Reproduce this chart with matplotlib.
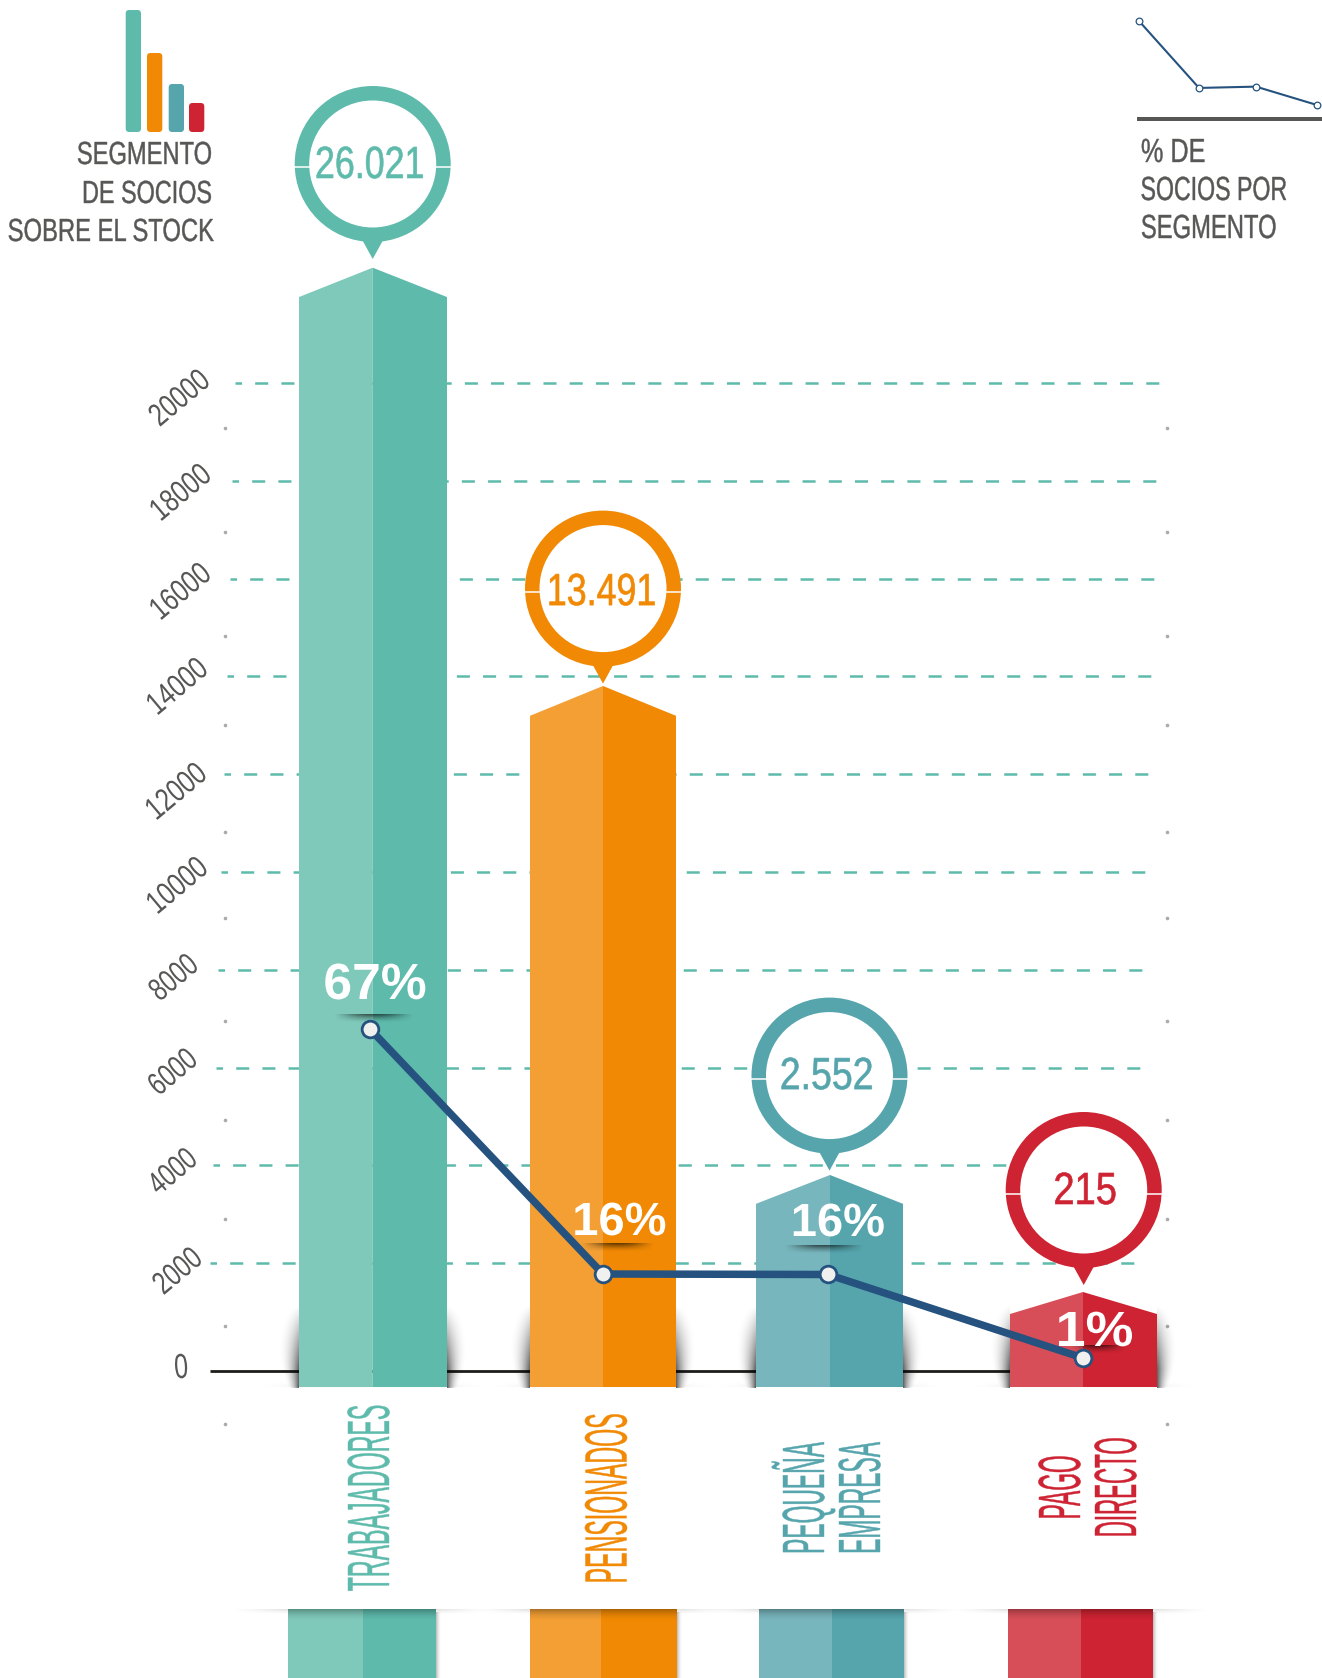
import numpy as np
import matplotlib
matplotlib.use('Agg')
import matplotlib.pyplot as plt
from matplotlib.patches import Circle, Polygon, FancyBboxPatch, Rectangle
from matplotlib.patheffects import AbstractPathEffect
from matplotlib.transforms import Affine2D

# data
segments = [['TRABAJADORES'], ['PENSIONADOS'], ['PEQUEÑA', 'EMPRESA'], ['PAGO', 'DIRECTO']]
badge_labels = ['26.021', '13.491', '2.552', '215']
pct_labels = ['67%', '16%', '16%', '1%']
bar_tops = [22358, 13804, 3804, 1411]        # height as drawn, read on the left axis
line_levels = [6789, 1779, 1769, 61]         # line as drawn, read on the left axis
mini_pct = [67, 16, 17, 3]
icon_heights = [122, 79, 48, 29]
grid_values = [2000, 4000, 6000, 8000, 10000, 12000, 14000, 16000, 18000, 20000]
tick_values = [0] + grid_values
dot_rows = [428, 532, 636, 725, 832, 918, 1021, 1120, 1219, 1326, 1424]

# colours
dark = ['#5EBBAC', '#F18904', '#56A5AD', '#CE2332']
light = ['#7FC9BB', '#F39F33', '#78B6BD', '#D84E58']
navy = '#25527F'
grey = '#575756'

# layout, pixels of the 1322x1678 picture
W, H = 1322, 1678
bar_x = [372.7, 603, 830, 1083]
bar_left = [299, 530, 756, 1010]
bar_right = [447, 676, 903, 1157]
shoulder = [600, 610, 590, 450]
bar_floor = -532
badge_x = [372.7, 603, 829.5, 1083.7]
badge_gap = [103.7, 97.4, 99.4, 102]
stub_left = [288, 530, 759, 1008]
stub_mid = [363, 601, 832, 1081]
stub_right = [436, 677, 904, 1153]

plt.rcParams['font.family'] = ['Liberation Sans', 'DejaVu Sans']
plt.rcParams['lines.scale_dashes'] = False


class FitWidth(AbstractPathEffect):
    # squeezes a text to a width in pixels around its own middle, tall stretches it from the baseline
    def __init__(self, width, tall=1.0, stroke=0.0):
        super().__init__()
        self.width = width
        self.tall = tall
        self.stroke = stroke

    def draw_path(self, renderer, gc, tpath, affine, rgbFace=None):
        box = tpath.get_extents()
        s = np.hypot(affine.get_matrix()[0, 0], affine.get_matrix()[1, 0])
        sx = self.width / (box.width * s)
        mid = (box.x0 + box.x1) / 2
        squeeze = Affine2D().translate(-mid, 0).scale(sx, self.tall).translate(mid, 0)
        gc0 = renderer.new_gc()
        gc0.copy_properties(gc)
        gc0.set_linewidth(self.stroke)
        if self.stroke > 0:
            gc0.set_foreground(rgbFace)
        renderer.draw_path(gc0, tpath, squeeze + affine, rgbFace)
        gc0.restore()


fig = plt.figure(figsize=(W / 100, H / 100), dpi=100)
ax = fig.add_axes([0, 0, 1, 1])
ax.axis('off')
ylim = ((1361 - H) / 0.0489, 1361 / 0.0489)
ax.set_xlim(0, W)
ax.set_ylim(*ylim)
pxt = Affine2D().scale(1, -1).translate(0, H)
rend = fig.canvas.get_renderer()


def row(v):
    return H - ax.transData.transform((0, v))[1]


def put(x, y, s, color, cap, width, angle=0, weight='normal', z=10, stroke=0.3):
    t = ax.text(x, y, s, color=color, fontsize=20, fontweight=weight, ha='center', va='baseline',
                rotation=0, rotation_mode='anchor', transform=pxt, zorder=z)
    size = 20 * width / t.get_window_extent(rend).width
    t.set_fontsize(size)
    t.set_rotation(angle)
    tall = cap / (size / 0.72 * 0.688)
    t.set_path_effects([FitWidth(width, tall, stroke)])


def soft(x0, x1, y0, y1, alpha, z):
    # alpha is a 2d array, first row on top
    rgba = np.zeros(alpha.shape + (4,))
    rgba[..., 3] = alpha
    ax.imshow(rgba, extent=(x0, x1, y1, y0), origin='upper', aspect='auto', transform=pxt,
              zorder=z, interpolation='bilinear')


def blob(x0, x1, y0, y1, strength, z, down=True):
    # darkest on one long edge, fading away from it and to both ends
    X, Y = np.meshgrid(np.linspace(-1, 1, 80), np.linspace(0, 1, 16))
    fade = 1 - Y if down else Y
    soft(x0, x1, y0, y1, strength * np.clip(1 - X**2, 0, 1) ** 1.5 * fade ** 1.5, z)


def side_shadow(edge, direction, z):
    ys = np.linspace(1305, 1388, 84)
    ds = np.linspace(0, 30, 31)
    D, Y = np.meshgrid(ds, ys)
    u = (Y - 1305) / 90
    reach = 3 + 38 * u ** 0.5 * (1 - u) ** 0.6
    alpha = 0.6 * np.clip(1 - D / reach, 0, 1) ** 2 * np.clip(u * 1.4, 0, 1)
    if direction > 0:
        soft(edge, edge + 30, 1305, 1388, alpha, z)
    else:
        soft(edge - 30, edge, 1305, 1388, alpha[:, ::-1], z)


# grid, shifted a little to the left going down
for i, v in enumerate(grid_values):
    ax.plot([210 + 2.8 * i, 1135 + 2.7 * i], [v, v], color='#5EBBAC', lw=1.8,
            ls=(4.7, (9.4, 9.47)), dash_capstyle='butt', zorder=1)
ax.plot([210, 1050], [-205, -205], color='#1D1D1B', lw=2, zorder=1, solid_capstyle='butt')

# dots of the minor ticks
ax.plot([224.5] * len(dot_rows), dot_rows, 'o', ms=2.6, color='#AAAAAA', mew=0, transform=pxt, zorder=1)
ax.plot([1166.5] * len(dot_rows), dot_rows, 'o', ms=2.6, color='#AAAAAA', mew=0, transform=pxt, zorder=1)

# left axis labels
tick_x = [182, 183.8, 179, 179, 180, 183.4, 182.3, 183.4, 186.6, 186.8, 185.6]
tick_y = [1378, 1278.5, 1179, 1079.5, 985, 893, 799, 694, 599, 500, 405.5]
tick_w = [12, 51, 51, 51, 51, 66, 66, 66, 66, 66, 66]
tick_a = [4, 40, 40, 40, 40, 40, 40, 40, 40, 40, 40]
for x, y, v, w, a in zip(tick_x, tick_y, tick_values, tick_w, tick_a):
    put(x, y, str(v), grey, 22 if v else 24, w, angle=a, z=2, stroke=0)

# bars
for i in range(4):
    side_shadow(bar_left[i], -1, 2)
    side_shadow(bar_right[i], 1, 2)
    blob(bar_left[i] - 45, bar_right[i] + 45, 1380, 1387, 0.10, 2, down=False)
    top = bar_tops[i]
    sh = top - shoulder[i]
    ax.add_patch(Polygon([(bar_left[i], bar_floor), (bar_left[i], sh), (bar_x[i], top), (bar_x[i], bar_floor)],
                         closed=True, fc=light[i], ec='none', zorder=3))
    ax.add_patch(Polygon([(bar_x[i], bar_floor), (bar_x[i], top), (bar_right[i], sh), (bar_right[i], bar_floor)],
                         closed=True, fc=dark[i], ec='none', zorder=3))

    # stub under the white band
    blob(stub_left[i] - 60, stub_right[i] + 60, 1609, 1615, 0.22, 2)
    X, Y = np.meshgrid(np.linspace(0, 1, 8), np.linspace(0, 1, 40))
    soft(stub_right[i], stub_right[i] + 6, 1612, 1678, 0.25 * (1 - X) ** 2, 2)
    ax.add_patch(Rectangle((stub_left[i], 1609), stub_mid[i] - stub_left[i], 69, fc=light[i], ec='none',
                           transform=pxt, zorder=3))
    ax.add_patch(Rectangle((stub_mid[i], 1609), stub_right[i] - stub_mid[i], 69, fc=dark[i], ec='none',
                           transform=pxt, zorder=3))
    soft(stub_left[i], stub_right[i], 1609, 1622, 0.3 * (1 - Y) ** 2, 4)

    # badge
    cx = badge_x[i]
    cy = row(top) - badge_gap[i]
    ax.add_patch(Circle((cx, cy), 78, fc=dark[i], ec='none', transform=pxt, zorder=5))
    ax.add_patch(Polygon([(cx - 11, cy + 75), (cx + 11, cy + 75), (cx, cy + 95)], closed=True,
                         fc=dark[i], ec='none', transform=pxt, zorder=5))
    ax.add_patch(Circle((cx, cy), 63.5, fc='white', ec='none', transform=pxt, zorder=6))
    for a, b in [(cx - 79, cx - 63), (cx + 63, cx + 79)]:
        ax.plot([a, b], [cy + 3.5, cy + 3.5], color='white', lw=1.1, transform=pxt, zorder=7,
                solid_capstyle='butt')

# number inside each badge
badge_w = [106, 105, 90, 60]
badge_dx = [-3, -1.5, -3, 1.5]
badge_dy = [14, 16.5, 13.5, 14]
for i in range(4):
    cy = row(bar_tops[i]) - badge_gap[i]
    put(badge_x[i] + badge_dx[i], cy + badge_dy[i], badge_labels[i], dark[i], 31, badge_w[i], stroke=0.45)

# percent labels and their shadows
pct_x = [375, 619.5, 838, 1094.5]
pct_y = [999, 1235, 1236, 1346]
pct_w = [100, 90, 90, 73]
pct_cap = [35, 32, 32, 34]
shadow_x0 = [333, 580, 783, 1070]
shadow_x1 = [415, 655, 865, 1127]
shadow_y0 = [1014, 1243, 1245, 1345]
for i in range(4):
    blob(shadow_x0[i], shadow_x1[i], shadow_y0[i], shadow_y0[i] + 9, 0.6, 6)
    put(pct_x[i], pct_y[i], pct_labels[i], 'white', pct_cap[i], pct_w[i], weight='bold', z=9, stroke=0)

# line
ax.plot([370, 603, 828, 1083], line_levels, color=navy, lw=5.4, zorder=7, solid_capstyle='round')
ax.plot([370, 603, 828, 1083], line_levels, 'o', ms=12, mfc='#F0F0EE', mec=navy, mew=2, zorder=8)

# segment names
put(389, 1498, segments[0][0], dark[0], 41, 185, angle=90)
put(626.5, 1498.5, segments[1][0], dark[1], 41, 167, angle=90)
put(824, 1498, segments[2][0], dark[2], 41, 110, angle=90)
put(880, 1498, segments[2][1], dark[2], 41, 110, angle=90)
put(1080, 1487.5, segments[3][0], dark[3], 41, 61, angle=90)
put(1136, 1487.5, segments[3][1], dark[3], 41, 97, angle=90)

# icon of the top left
icon_left = [125.7, 147, 168.7, 189]
for i in range(4):
    ax.add_patch(FancyBboxPatch((icon_left[i] + 3, 132 - icon_heights[i] + 3), 15.3 - 6, icon_heights[i] - 6,
                                boxstyle='round,pad=3,rounding_size=3.5', fc=dark[i], ec='none',
                                transform=pxt, zorder=5))

put(144.5, 164, 'SEGMENTO', grey, 22, 133)
put(147, 203, 'DE SOCIOS', grey, 22, 127)
put(110.5, 241, 'SOBRE EL STOCK', grey, 22, 205)

# small line of the top right
mini_x = [1139, 1199, 1256, 1317]
ax.add_patch(Rectangle((1137, 117.3), W - 1137, 3.4, fc=grey, ec='none', transform=pxt, zorder=5))
mini = fig.add_axes([1139 / W, 1 - 105 / H, (1317 - 1139) / W, 84 / H])
mini.axis('off')
mini.set_xlim(1139, 1317)
mini.set_ylim(3, 67)
mini.plot(mini_x, mini_pct, color=navy, lw=1.5, zorder=3, clip_on=False)
mini.plot(mini_x, mini_pct, 'o', ms=4.8, mfc='white', mec=navy, mew=0.9, zorder=4, clip_on=False)

put(1173, 162, '% DE', grey, 23, 62.5)
put(1214, 200, 'SOCIOS POR', grey, 23, 144.5)
put(1208.5, 238, 'SEGMENTO', grey, 23, 133.5)

ax.set_xlim(0, W)
ax.set_ylim(*ylim)
fig.savefig('out.png', dpi=100)
